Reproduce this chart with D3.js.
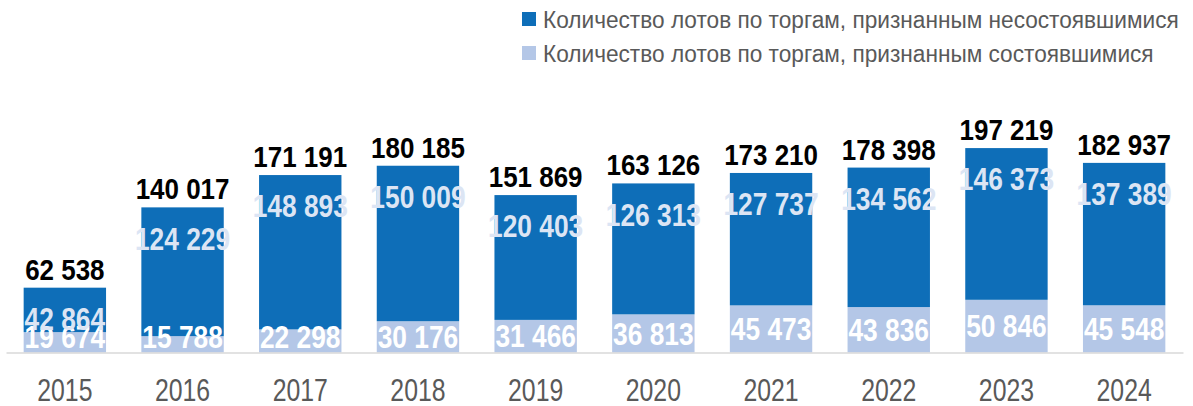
<!DOCTYPE html>
<html>
<head>
<meta charset="utf-8">
<script src="https://cdn.jsdelivr.net/npm/d3@7"></script>
<style>
  html, body { margin: 0; padding: 0; background: #ffffff; }
  svg { display: block; }
  text { font-family: 'Liberation Sans', Arial, sans-serif; }
</style>
</head>
<body>
<svg id="chart" width="1193" height="406"></svg>
<script>
const years = ["2015","2016","2017","2018","2019","2020","2021","2022","2023","2024"];
const successful = [19674, 15788, 22298, 30176, 31466, 36813, 45473, 43836, 50846, 45548];
const failed = [42864, 124229, 148893, 150009, 120403, 126313, 127737, 134562, 146373, 137389];
const seriesNames = [
  "Количество лотов по торгам, признанным несостоявшимися",
  "Количество лотов по торгам, признанным состоявшимися"
];

const fmt = v => d3.format(",")(v).replace(/,/g, " ");

const W = 1193, H = 406;
const baseY = 352.5;
const svg = d3.select("#chart");

const x = d3.scaleBand().domain(years).range([6, 1183]).paddingInner(0.3).paddingOuter(0.15);
const y = d3.scaleLinear().domain([0, 200000]).range([baseY, baseY - 207.3]);

const data = years.map((yr, i) => ({
  year: yr, s: successful[i], f: failed[i], t: successful[i] + failed[i]
}));

const colDark = "#0e6eb8", colLight = "#b4c7e7";
const cx = d => x(d.year) + x.bandwidth() / 2;

svg.append("defs").append("clipPath").attr("id", "plotclip")
  .append("rect").attr("x", 0).attr("y", 0).attr("width", W).attr("height", baseY);

// bars
const g = svg.append("g");
g.selectAll("rect.light").data(data).join("rect").attr("class", "light")
  .attr("x", d => x(d.year)).attr("width", x.bandwidth())
  .attr("y", d => y(d.s)).attr("height", d => y(0) - y(d.s))
  .attr("fill", colLight);
g.selectAll("rect.dark").data(data).join("rect").attr("class", "dark")
  .attr("x", d => x(d.year)).attr("width", x.bandwidth())
  .attr("y", d => y(d.t)).attr("height", d => y(d.s) - y(d.t))
  .attr("fill", colDark);

// axis line + year labels
const xAxis = d3.axisBottom(x).tickSize(0).tickPadding(0);
const ax = svg.append("g").attr("transform", `translate(0,${baseY})`).call(xAxis);
ax.select(".domain").attr("stroke", "#d9d9d9").attr("stroke-width", 1.5);
ax.selectAll(".tick text")
  .attr("y", 0).attr("dy", null)
  .attr("transform", "translate(0,48.5) scale(0.8,1)")
  .attr("font-size", 31).attr("fill", "#595959")
  .style("font-family", "'Liberation Sans', Arial, sans-serif");

// light (successful) labels
const lab = svg.append("g").attr("clip-path", "url(#plotclip)");
lab.selectAll("text.ls").data(data).join("text").attr("class", "ls")
  .attr("transform", d => `translate(${cx(d)},${Math.min((y(0) + y(d.s)) / 2, baseY - 15.5) + 11.2}) scale(0.85,1)`)
  .attr("text-anchor", "middle").attr("font-size", 31).attr("font-weight", "bold")
  .attr("fill", "#ffffff").text(d => fmt(d.s));

// dark (failed) labels
lab.selectAll("text.lf").data(data).join("text").attr("class", "lf")
  .attr("transform", d => `translate(${cx(d)},${y(d.t) + 42.4}) scale(0.85,1)`)
  .attr("text-anchor", "middle").attr("font-size", 31).attr("font-weight", "bold")
  .attr("fill", "#dce5f4").text(d => fmt(d.f));

// totals
svg.append("g").selectAll("text").data(data).join("text")
  .attr("transform", d => `translate(${cx(d)},${y(d.t) - 8}) scale(0.88,1)`)
  .attr("text-anchor", "middle").attr("font-size", 29.5).attr("font-weight", "bold")
  .attr("fill", "#000000").text(d => fmt(d.t));

// legend
const leg = svg.append("g");
const legColors = [colDark, colLight];
seriesNames.forEach((name, i) => {
  const gy = i * 34;
  leg.append("rect").attr("x", 522).attr("y", 12 + gy).attr("width", 14).attr("height", 14)
    .attr("fill", legColors[i]);
  leg.append("text").attr("transform", `translate(543,${27.8 + gy}) scale(0.925,1)`)
    .attr("font-size", 24.5).attr("fill", "#595959").text(name);
});
</script>
</body>
</html>
